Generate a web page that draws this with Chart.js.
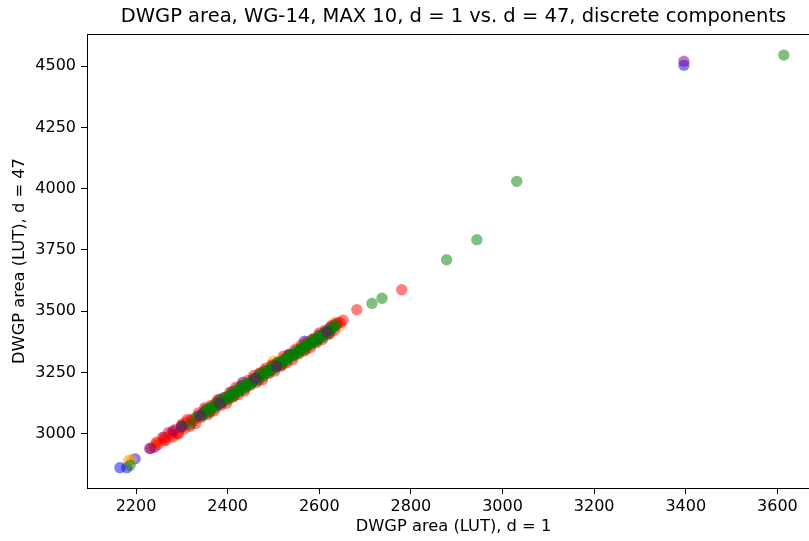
<!DOCTYPE html>
<html>
<head>
<meta charset="utf-8">
<script src="https://cdn.jsdelivr.net/npm/chart.js@4.4.1/dist/chart.umd.min.js"></script>
<style>
  html, body { margin: 0; padding: 0; background: #fff; overflow: hidden; }
  #wrap { width: 830px; height: 541px; }
</style>
</head>
<body>
<div id="wrap"><canvas id="scatter" width="830" height="541"></canvas></div>
<script>
// DWGP area at d = 1 (x) vs d = 47 (y), one series per component type
const xTicks = [2200, 2400, 2600, 2800, 3000, 3200, 3400, 3600];
const yTicks = [3000, 3250, 3500, 3750, 4000, 4250, 4500];

const blueX = [2165, 2180, 2198, 2240, 2262, 2300, 2352, 2383, 2410, 2433, 2470, 2500, 2535, 2568, 2600, 2625, 3396];
const blueY = [2862, 2862, 2898, 2945, 2985, 3028, 3098, 3140, 3172, 3210, 3245, 3280, 3325, 3378, 3402, 3436, 4504];

const orangeX = [2183, 2190, 2241, 2246, 2275, 2290, 2320, 2362, 2402, 2440, 2475, 2499, 2520, 2560, 2598, 2632, 2645];
const orangeY = [2890, 2895, 2956, 2962, 2990, 3008, 3055, 3092, 3140, 3190, 3250, 3296, 3285, 3350, 3385, 3452, 3440];

const redX = [2232, 2248, 2258, 2265, 2271, 2280, 2286, 2293, 2300, 2305, 2312, 2318, 2322, 2330, 2336, 2342,
  2350, 2357, 2364, 2371, 2378, 2385, 2392, 2398, 2405, 2411, 2418, 2424, 2431, 2437, 2444, 2450, 2457, 2463,
  2470, 2476, 2483, 2490, 2496, 2503, 2509, 2516, 2522, 2529, 2535, 2542, 2548, 2555, 2561, 2568, 2574, 2581,
  2587, 2594, 2600, 2607, 2613, 2620, 2627, 2633, 2640, 2646, 2652, 2682, 2780,
  2245, 2262, 2276, 2290, 2309, 2326, 2346, 2361, 2375, 2389, 2402, 2415, 2428, 2441, 2454, 2467, 2480, 2493,
  2506, 2519, 2532, 2545, 2558, 2571, 2584, 2597, 2610, 2623, 2636];
const redY = [2940, 2956, 2986, 2973, 3006, 2987, 3018, 2999, 3039, 3020, 3058, 3031, 3060, 3042, 3085, 3067,
  3107, 3079, 3116, 3094, 3139, 3116, 3148, 3125, 3170, 3149, 3190, 3161, 3198, 3175, 3218, 3199, 3238, 3209,
  3248, 3221, 3268, 3246, 3281, 3256, 3293, 3276, 3317, 3290, 3323, 3302, 3345, 3326, 3363, 3338, 3375, 3352,
  3389, 3372, 3411, 3385, 3423, 3405, 3442, 3423, 3454, 3453, 3463, 3506, 3588,
  2966, 2975, 2998, 3001, 3046, 3053, 3084, 3088, 3127, 3130, 3152, 3154, 3192, 3194, 3216, 3218, 3256, 3258,
  3280, 3282, 3320, 3322, 3343, 3345, 3383, 3385, 3407, 3409, 3447];

const greenX = [2187, 2300, 2318, 2332, 2345, 2352, 2360, 2366, 2373, 2380, 2386, 2393, 2399, 2406, 2412, 2419,
  2425, 2432, 2438, 2445, 2451, 2458, 2464, 2471, 2477, 2484, 2490, 2497, 2503, 2510, 2516, 2523, 2529, 2536,
  2542, 2549, 2555, 2562, 2568, 2575, 2581, 2588, 2594, 2601, 2607, 2614, 2620, 2628, 2636,
  2715, 2737, 2878, 2944, 3031, 3614,
  2338, 2349, 2356, 2363, 2370, 2377, 2383, 2390, 2396, 2403, 2409, 2416, 2422, 2429, 2435, 2442, 2448, 2455,
  2461, 2468, 2474, 2481, 2487, 2494, 2500, 2507, 2513, 2520, 2526, 2533, 2539, 2546, 2552, 2559, 2565, 2572,
  2578, 2585, 2591, 2598, 2604, 2611, 2617, 2624, 2632];
const greenY = [2872, 3033, 3039, 3069, 3074, 3097, 3091, 3112, 3107, 3131, 3125, 3147, 3139, 3161, 3155, 3179,
  3172, 3195, 3186, 3209, 3202, 3227, 3220, 3243, 3234, 3257, 3250, 3275, 3268, 3291, 3282, 3305, 3298, 3322,
  3316, 3338, 3330, 3352, 3346, 3370, 3364, 3386, 3377, 3400, 3393, 3418, 3411, 3433, 3443,
  3532, 3553, 3710, 3792, 4030, 4545,
  3074, 3082, 3098, 3102, 3113, 3117, 3131, 3135, 3145, 3149, 3163, 3166, 3177, 3180, 3195, 3198, 3209, 3212,
  3227, 3230, 3241, 3244, 3258, 3262, 3272, 3276, 3290, 3294, 3304, 3308, 3322, 3326, 3336, 3340, 3354, 3358,
  3368, 3372, 3386, 3389, 3400, 3403, 3418, 3421, 3436];

const purpleX = [2230, 2281, 2300, 2340, 2383, 2460, 2507, 2617, 3396];
const purpleY = [2940, 3012, 3030, 3075, 3124, 3226, 3275, 3416, 4520];

function points(xs, ys) {
  return xs.map((x, i) => ({ x: x, y: ys[i] }));
}

function series(label, xs, ys, color, order) {
  return {
    label: label,
    data: points(xs, ys),
    backgroundColor: color,
    borderWidth: 0,
    pointRadius: 5.7,
    order: order
  };
}

// top spine; left and bottom come from the axis borders
const topSpine = {
  id: 'topSpine',
  afterDraw(chart) {
    const { ctx, chartArea } = chart;
    ctx.save();
    ctx.strokeStyle = '#000';
    ctx.lineWidth = 1;
    ctx.beginPath();
    ctx.moveTo(chartArea.left, chartArea.top + 0.5);
    ctx.lineTo(chartArea.right, chartArea.top + 0.5);
    ctx.stroke();
    ctx.restore();
  }
};

const FONT = 'DejaVu Sans';
const plain = v => String(v);

new Chart(document.getElementById('scatter'), {
  type: 'scatter',
  data: {
    datasets: [
      series('blue', blueX, blueY, 'rgba(0,0,255,0.5)', 5),
      series('orange', orangeX, orangeY, 'rgba(255,165,0,0.5)', 4),
      series('red', redX, redY, 'rgba(255,0,0,0.5)', 3),
      series('green', greenX, greenY, 'rgba(0,128,0,0.5)', 2),
      series('purple', purpleX, purpleY, 'rgba(128,0,128,0.5)', 1)
    ]
  },
  options: {
    responsive: false,
    animation: false,
    events: [],
    layout: { padding: { top: 0, left: 0, right: 10, bottom: 0 } },
    plugins: {
      legend: { display: false },
      tooltip: { enabled: false },
      title: {
        display: true,
        fullSize: false,
        text: 'DWGP area, WG-14, MAX 10, d = 1 vs. d = 47, discrete components',
        color: '#000',
        font: { family: FONT, size: 19.5, weight: 'normal', lineHeight: 1.2 },
        padding: { top: 5, bottom: 5.6 }
      }
    },
    scales: {
      x: {
        type: 'linear',
        min: 2093,
        max: 3693,
        afterBuildTicks: s => { s.ticks = xTicks.map(v => ({ value: v })); },
        afterFit: s => { s.height = 53; },
        grid: { display: true, drawOnChartArea: false, drawTicks: true, tickLength: 6, tickColor: '#000' },
        border: { display: true, color: '#000', width: 1 },
        ticks: { color: '#000', font: { family: FONT, size: 16 }, padding: 3, maxRotation: 0, callback: plain },
        title: {
          display: true,
          text: 'DWGP area (LUT), d = 1',
          color: '#000',
          font: { family: FONT, size: 16.3 },
          padding: { top: 0, bottom: 4 }
        }
      },
      y: {
        type: 'linear',
        min: 2779,
        max: 4631,
        afterBuildTicks: s => { s.ticks = yTicks.map(v => ({ value: v })); },
        afterFit: s => { s.width = 87; },
        grid: { display: true, drawOnChartArea: false, drawTicks: true, tickLength: 6, tickColor: '#000' },
        border: { display: true, color: '#000', width: 1 },
        ticks: { color: '#000', font: { family: FONT, size: 16 }, padding: 5, callback: plain },
        title: {
          display: true,
          text: 'DWGP area (LUT), d = 47',
          color: '#000',
          font: { family: FONT, size: 16.3 },
          padding: { top: 10, bottom: 0 }
        }
      }
    }
  },
  plugins: [topSpine]
});
</script>
</body>
</html>
